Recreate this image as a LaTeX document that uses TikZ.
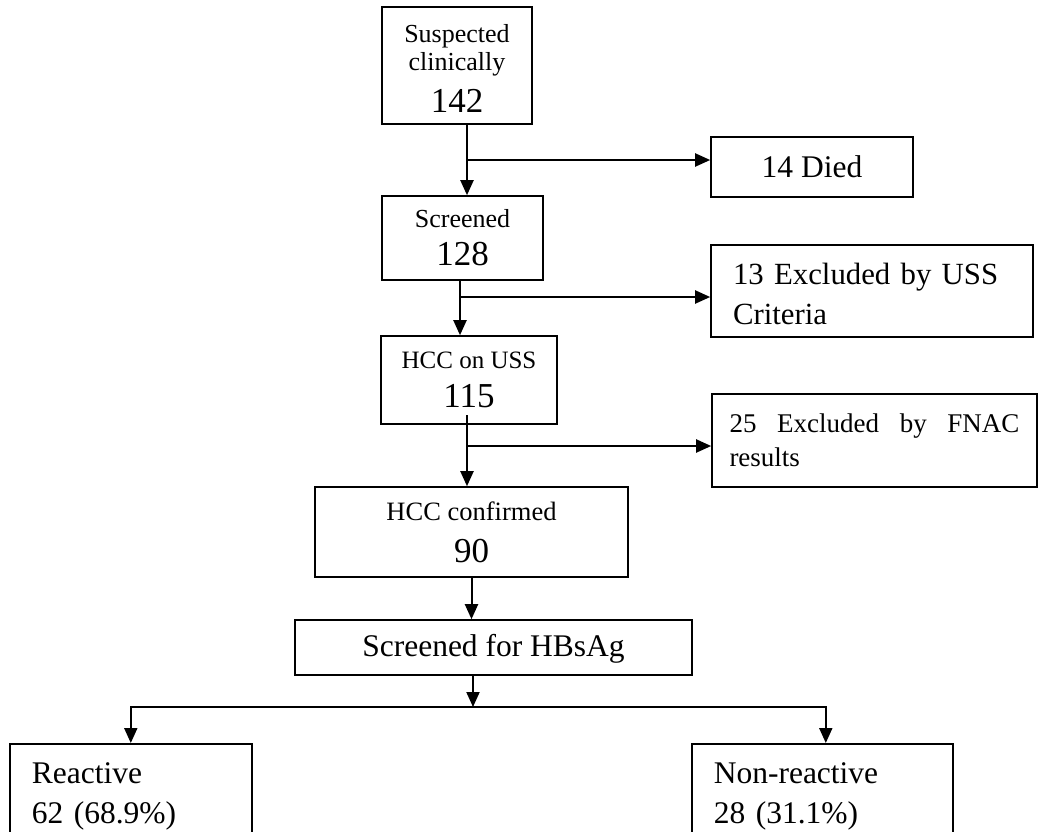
\documentclass[tikz,border=0pt]{standalone}
\usepackage{fontspec}
\setmainfont{Liberation Serif}
\usetikzlibrary{arrows.meta}

\newcommand{\bignum}[1]{{\fontsize{17.5}{14}\selectfont #1}}
\newcommand{\tightlines}{\lineskiplimit=-20pt\relax}

\begin{document}
\begin{tikzpicture}[
    x=0.5pt,y=-0.5pt,
    >={Triangle[length=7.5pt,width=6.5pt]},
    box/.style={
        draw,
        line width=0.8pt,
        inner sep=0pt,
        align=center
    },
    flow/.style={->, line width=1pt},
    small/.style={font=\fontsize{13}{14}\selectfont\tightlines},
    big/.style={font=\fontsize{15.75}{20}\selectfont\tightlines}
]

\useasboundingbox (0,0) rectangle (1040,831);
\clip (0,0) rectangle (1040,831);

\node[box, small, minimum width=75pt, minimum height=58.5pt] (susp) at (457,65.5)
    {\rule{0pt}{12.4pt}Suspected\\clinically\\[7pt]\bignum{142}};
\node[box, big, minimum width=101pt, minimum height=30pt] (died) at (812,167) {14 Died};

\node[box, small, minimum width=80.5pt, minimum height=42pt] (scr) at (462.5,238)
    {Screened\\[5pt]\bignum{128}};
\node[box, font=\fontsize{15.4}{20}\selectfont\tightlines, text height=13.5pt, text width=139pt, align=left, inner xsep=11pt, minimum height=46pt] (exclUSS) at (872,291)
    {13 Excluded by USS Criteria};

\node[box, font=\fontsize{12.5}{14}\selectfont\tightlines, minimum width=88pt, minimum height=44pt] (ussHCC) at (469,380)
    {HCC on USS\\[5.5pt]\bignum{115}};
\node[box, font=\fontsize{13.5}{17}\selectfont\tightlines, text width=145pt, align=justify, inner xsep=8.75pt, minimum height=46.5pt] (exclFNAC) at (874.5,440.5)
    {25 Excluded by FNAC\linebreak results};

\node[box, font=\fontsize{13.25}{14}\selectfont\tightlines, minimum width=156.5pt, minimum height=45pt] (conf) at (471.5,532)
    {HCC confirmed\\[7pt]\bignum{90}};
\node[box, big, text height=12pt, minimum width=198.5pt, minimum height=27.5pt] (hbsag) at (493.5,647.5) {Screened for HBsAg};

\node[box, big, anchor=north west, text width=99pt, align=left, inner xsep=11pt, inner ysep=9.5pt, text depth=45pt] (react) at (9,743)
    {Reactive\\62 (68.9\%)};
\node[box, big, anchor=north west, text width=108.5pt, align=left, inner xsep=11pt, inner ysep=9.5pt, text depth=45pt] (nonreact) at (691,743)
    {Non-reactive\\28 (31.1\%)};

% branch points
\coordinate (j1) at (467,160);
\coordinate (j2) at (460,297);
\coordinate (j3top) at (467,415);
\coordinate (j3) at (467,446);
\coordinate (split) at (473,707);

\draw[flow] (susp.south -| j1) -- (j1 |- scr.north);
\draw[flow] (j1) -- (j1 -| died.west);

\draw[flow] (scr.south -| j2) -- (j2 |- ussHCC.north);
\draw[flow] (j2) -- (j2 -| exclUSS.west);

\draw[flow] (j3top) -- (j3 |- conf.north);
\draw[flow] (j3) -- (j3 -| exclFNAC.west);

\draw[flow] (conf.south) -- (conf.south |- hbsag.north);

\draw[flow] (hbsag.south -| split) -- (split);
\draw[flow] (split) -| (react.north);
\draw[flow] (split) -| ([xshift=1.75pt]nonreact.north);

\end{tikzpicture}
\end{document}
